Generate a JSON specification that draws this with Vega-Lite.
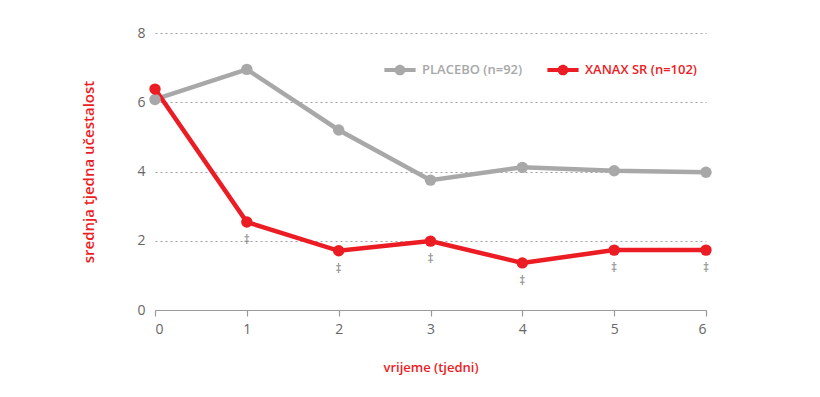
{
  "$schema": "https://vega.github.io/schema/vega-lite/v6.json",
  "autosize": "none",
  "width": 551,
  "height": 277,
  "padding": {"left": 155, "top": 33, "right": 114, "bottom": 87},
  "background": "white",
  "config": {
    "font": "Open Sans",
    "view": {"stroke": null}
  },
  "data": {
    "values": [
      {"week": 0, "value": 6.08, "group": "PLACEBO (n=92)", "sig": ""},
      {"week": 1, "value": 6.95, "group": "PLACEBO (n=92)", "sig": ""},
      {"week": 2, "value": 5.2, "group": "PLACEBO (n=92)", "sig": ""},
      {"week": 3, "value": 3.75, "group": "PLACEBO (n=92)", "sig": ""},
      {"week": 4, "value": 4.12, "group": "PLACEBO (n=92)", "sig": ""},
      {"week": 5, "value": 4.02, "group": "PLACEBO (n=92)", "sig": ""},
      {"week": 6, "value": 3.98, "group": "PLACEBO (n=92)", "sig": ""},
      {"week": 0, "value": 6.38, "group": "XANAX SR (n=102)", "sig": ""},
      {"week": 1, "value": 2.54, "group": "XANAX SR (n=102)", "sig": "‡"},
      {"week": 2, "value": 1.71, "group": "XANAX SR (n=102)", "sig": "‡"},
      {"week": 3, "value": 1.99, "group": "XANAX SR (n=102)", "sig": "‡"},
      {"week": 4, "value": 1.36, "group": "XANAX SR (n=102)", "sig": "‡"},
      {"week": 5, "value": 1.73, "group": "XANAX SR (n=102)", "sig": "‡"},
      {"week": 6, "value": 1.73, "group": "XANAX SR (n=102)", "sig": "‡"}
    ]
  },
  "encoding": {
    "x": {
      "field": "week", "type": "quantitative",
      "scale": {"domain": [0, 6], "nice": false, "zero": false},
      "axis": {
        "title": "vrijeme (tjedni)", "titleColor": "#ec1c24", "titleFontSize": 13, "titleFontWeight": 600,
        "titlePadding": 25,
        "values": [0, 1, 2, 3, 4, 5, 6], "format": "d",
        "grid": false, "domainColor": "#9a9a9a", "domainWidth": 1.2,
        "tickColor": "#9a9a9a", "tickSize": 6, "tickWidth": 1.2,
        "labelColor": "#666666", "labelFontSize": 14, "labelPadding": 6
      }
    },
    "y": {
      "field": "value", "type": "quantitative",
      "scale": {"domain": [0, 8], "nice": false},
      "axis": {
        "title": "srednja tjedna učestalost", "titleColor": "#ec1c24", "titleFontSize": 15, "titleFontWeight": 600,
        "titlePadding": 40,
        "values": [0, 2, 4, 6, 8],
        "domain": false, "ticks": false,
        "grid": true, "gridDash": [2, 3], "gridColor": "#a0a0a0", "gridWidth": 1,
        "labelColor": "#666666", "labelFontSize": 14, "labelPadding": 10
      }
    }
  },
  "layer": [
    {
      "mark": {"type": "line", "strokeWidth": 4.5, "point": {"size": 130, "filled": true, "opacity": 1}},
      "encoding": {
        "color": {
          "field": "group", "type": "nominal",
          "scale": {"domain": ["PLACEBO (n=92)", "XANAX SR (n=102)"], "range": ["#a8a8a8", "#ec1c24"]},
          "legend": {
            "title": null, "orient": "none", "direction": "horizontal",
            "legendX": 235, "legendY": 27,
            "symbolType": "M-1.6,-0.2H-0.4V0.2H-1.6Z M0.4,-0.2H1.6V0.2H0.4Z M-0.55,0A0.55,0.55 0 1 1 0.55,0A0.55,0.55 0 1 1 -0.55,0Z",
            "symbolSize": 380, "symbolStrokeWidth": 0, "symbolOpacity": 1,
            "labelFontSize": 13, "labelFontWeight": 600, "columnPadding": 24, "labelOffset": 12,
            "encode": {
              "labels": {"update": {"fill": {"signal": "datum.label == 'PLACEBO (n=92)' ? '#a8a8a8' : '#ec1c24'"}}}
            }
          }
        }
      }
    },
    {
      "mark": {"type": "text", "dy": 18, "fontSize": 12, "color": "#808080"},
      "encoding": {"text": {"field": "sig"}}
    }
  ]
}
